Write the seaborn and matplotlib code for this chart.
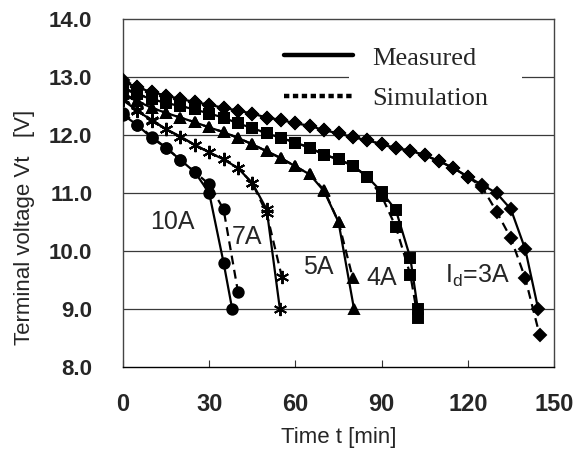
import matplotlib
matplotlib.use('Agg')
import matplotlib.pyplot as plt
from matplotlib.lines import Line2D
from matplotlib.patches import Rectangle
import seaborn as sns
import pandas as pd

# 放电电流 (A) 与 对应标记
currents = [10, 7, 5, 4, 3]
markers = ['o', (6, 2, 0), '^', 's', 'D']
marker_sizes = [7.5, 9.5, 7.5, 7, 6.5]

# 实测数据 (Measured)
t_meas = {
    10: [0, 5, 10, 15, 20, 25, 30, 35, 38],
    7: [0, 5, 10, 15, 20, 25, 30, 35, 40, 45, 50, 54.6],
    5: [0, 5, 10, 15, 20, 25, 30, 35, 40, 45, 50, 55, 60, 65, 70, 75, 80.4],
    4: [0, 5, 10, 15, 20, 25, 30, 35, 40, 45, 50, 55, 60, 65, 70, 75, 80, 85, 90, 95, 100, 102.6],
    3: [0, 5, 10, 15, 20, 25, 30, 35, 40, 45, 50, 55, 60, 65, 70, 75, 80, 85, 90, 95,
        100, 105, 110, 115, 120, 125, 130, 135, 140, 144.5],
}
v_meas = {
    10: [12.35, 12.17, 11.95, 11.78, 11.57, 11.36, 11.0, 9.8, 9.0],
    7: [12.6, 12.42, 12.25, 12.1, 11.97, 11.83, 11.7, 11.58, 11.43, 11.17, 10.72, 9.0],
    5: [12.7, 12.58, 12.47, 12.38, 12.3, 12.22, 12.13, 12.05, 11.95, 11.84, 11.72, 11.6,
        11.46, 11.32, 11.03, 10.5, 9.0],
    4: [12.8, 12.7, 12.62, 12.55, 12.5, 12.44, 12.37, 12.3, 12.2, 12.12, 12.03, 11.95,
        11.87, 11.78, 11.66, 11.58, 11.47, 11.28, 11.02, 10.7, 9.88, 9.0],
    3: [12.92, 12.82, 12.74, 12.68, 12.62, 12.57, 12.52, 12.47, 12.42, 12.37, 12.3, 12.26,
        12.2, 12.16, 12.08, 12.03, 11.96, 11.91, 11.84, 11.77, 11.73, 11.65, 11.55, 11.43,
        11.28, 11.14, 11.0, 10.72, 10.03, 9.0],
}

# 仿真数据 (Simulation)
t_sim = {
    10: [0, 5, 10, 15, 20, 25, 30, 35, 40],
    7: [0, 5, 10, 15, 20, 25, 30, 35, 40, 45, 50, 55.3],
    5: [0, 5, 10, 15, 20, 25, 30, 35, 40, 45, 50, 55, 60, 65, 70, 75, 80],
    4: [0, 5, 10, 15, 20, 25, 30, 35, 40, 45, 50, 55, 60, 65, 70, 75, 80, 85, 90, 95, 100, 102.6],
    3: [0, 5, 10, 15, 20, 25, 30, 35, 40, 45, 50, 55, 60, 65, 70, 75, 80, 85, 90, 95,
        100, 105, 110, 115, 120, 125, 130, 135, 140, 145],
}
v_sim = {
    10: [12.38, 12.18, 11.97, 11.78, 11.57, 11.36, 11.15, 10.72, 9.3],
    7: [12.62, 12.43, 12.26, 12.1, 11.97, 11.83, 11.7, 11.58, 11.43, 11.17, 10.65, 9.55],
    5: [12.72, 12.59, 12.47, 12.38, 12.3, 12.22, 12.13, 12.05, 11.95, 11.84, 11.72, 11.6,
        11.46, 11.32, 11.05, 10.5, 9.53],
    4: [12.82, 12.71, 12.62, 12.55, 12.5, 12.44, 12.37, 12.3, 12.2, 12.12, 12.03, 11.95,
        11.87, 11.78, 11.66, 11.58, 11.47, 11.28, 10.95, 10.41, 9.59, 8.85],
    3: [12.95, 12.83, 12.74, 12.68, 12.62, 12.57, 12.52, 12.47, 12.42, 12.37, 12.3, 12.26,
        12.2, 12.16, 12.08, 12.03, 11.96, 11.91, 11.84, 11.77, 11.73, 11.65, 11.55, 11.43,
        11.28, 11.1, 10.68, 10.22, 9.53, 8.55],
}

# 曲线标注
label_texts = ['10A', '7A', '5A', '4A', r'I$_\mathregular{d}$=3A']
label_t = [17.1, 43.1, 67.8, 89.9, 123.3]
label_v = [10.5, 10.24, 9.72, 9.53, 9.57]

y_ticks = [8.0, 9.0, 10.0, 11.0, 12.0, 13.0, 14.0]
x_ticks = [0, 30, 60, 90, 120, 150]

sns.set_theme(style='white')
plt.rcParams['font.family'] = ['Liberation Sans', 'DejaVu Sans']

rows = []
for c in currents:
    for t, v in zip(t_meas[c], v_meas[c]):
        rows.append({'current': c, 'kind': 'Measured', 't': t, 'v': v})
    for t, v in zip(t_sim[c], v_sim[c]):
        rows.append({'current': c, 'kind': 'Simulation', 't': t, 'v': v})
df = pd.DataFrame(rows)

fig = plt.figure(figsize=(5.82, 4.59), dpi=100)
ax = fig.add_axes([123 / 582, 1 - 367 / 459, 431 / 582, 348 / 459])

for c, m, ms in zip(currents, markers, marker_sizes):
    for kind, ls in [('Simulation', (0, (4, 2.5))), ('Measured', '-')]:
        sub = df[(df.current == c) & (df.kind == kind)]
        sns.lineplot(data=sub, x='t', y='v', ax=ax, color='black', linewidth=1.6,
                     linestyle=ls, marker=m, markersize=ms, markeredgecolor='black',
                     markerfacecolor='black', markeredgewidth=1.4,
                     estimator=None, sort=False, legend=False, zorder=3)

ax.set_xlim(0, 150)
ax.set_ylim(8, 14)
ax.set_xticks(x_ticks)
ax.set_yticks(y_ticks)
ax.set_yticklabels([f'{y:.1f}' for y in y_ticks])
ax.tick_params(axis='x', direction='in', length=5, width=0.8, color='#333333',
               pad=19, labelsize=17, bottom=True)
ax.tick_params(axis='y', length=0, pad=22, labelsize=16)
for lab in ax.get_xticklabels() + ax.get_yticklabels():
    lab.set_fontweight('bold')

for y in y_ticks[1:-1]:
    ax.axhline(y, color='#3a3a3a', linewidth=0.9, zorder=1)

for side in ['left', 'right', 'top']:
    ax.spines[side].set_linestyle((0, (1, 1)))
    ax.spines[side].set_color('#444444')
    ax.spines[side].set_linewidth(1.0)
ax.spines['bottom'].set_color('black')
ax.spines['bottom'].set_linewidth(1.0)

ax.set_xlabel('Time t [min]', fontsize=16, labelpad=8)
ax.set_ylabel('Terminal voltage Vt   [V]', fontsize=16)
ax.yaxis.set_label_coords(-0.205, 0.40)

for txt, t, v in zip(label_texts, label_t, label_v):
    ax.text(t, v, txt, fontsize=18, ha='center', va='center', zorder=4)

# 图例
ax.add_patch(Rectangle((0.525, 0.72), 0.4, 0.24, transform=ax.transAxes,
                       facecolor='white', edgecolor='none', zorder=2))
handles = [Line2D([], [], color='black', linewidth=3.2, linestyle='-'),
           Line2D([], [], color='black', linewidth=3.2, linestyle=(0, (1.2, 0.8)))]
leg = ax.legend(handles, ['Measured', 'Simulation'], loc='upper left',
                bbox_to_anchor=(0.343, 0.96), frameon=False, borderpad=0,
                handlelength=2.6, handletextpad=0.75, labelspacing=0.65,
                prop={'family': 'Liberation Serif', 'size': 19})
leg.set_zorder(5)

plt.savefig('out.png', dpi=100)
